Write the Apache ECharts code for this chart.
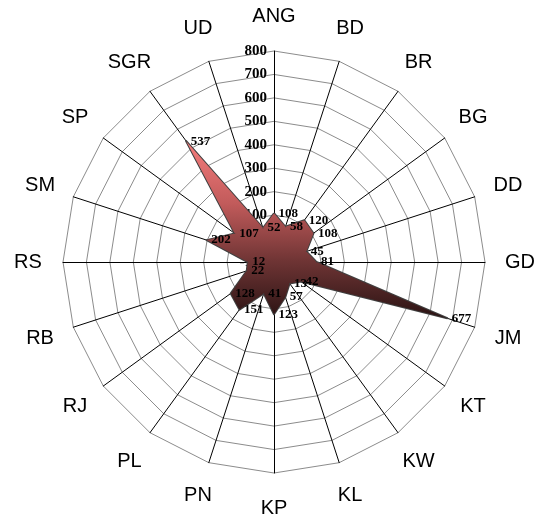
<!DOCTYPE html>
<html><head><meta charset="utf-8">
<script src="https://cdn.jsdelivr.net/npm/echarts@6/dist/echarts.min.js"></script>
<style>html,body{margin:0;padding:0;background:#fff}#c{width:541px;height:519px}</style>
</head><body><div id="c"></div>
<script>
const categories = ['ANG','BD','BR','BG','DD','GD','JM','KT','KW','KL','KP','PN','PL','RJ','RB','RS','SM','SP','SGR','UD'];
const values = [108,58,120,108,45,81,677,42,13,57,123,41,151,128,22,12,202,107,537,52];
const axisMin = -100, axisMax = 800, axisStep = 100;

const tickLabelStyle = {
  color: '#000', fontFamily: 'Liberation Serif, Times New Roman, serif',
  fontWeight: 'bold', fontSize: 15, margin: 7, hideOverlap: false
};
// ECharts radar runs counter-clockwise; reorder so the categories go clockwise from the top
const order = [0].concat(categories.map((_, i) => i).slice(1).reverse());
const indicator = order.map((i, k) => ({
  name: categories[i], min: axisMin, max: axisMax,
  axisLabel: Object.assign({ show: k === 0 }, tickLabelStyle)
}));
const seriesData = order.map(i => values[i]);

const chart = echarts.init(document.getElementById('c'), null, { renderer: 'canvas' });
chart.setOption({
  animation: false,
  backgroundColor: '#fff',
  radar: {
    center: [274, 262],
    radius: 211,
    startAngle: 90,
    shape: 'polygon',
    splitNumber: (axisMax - axisMin) / axisStep,
    indicator: indicator,
    nameGap: 35,
    axisName: {
      color: '#000', fontFamily: 'Liberation Sans, Arial, sans-serif', fontSize: 20,
      align: 'center', verticalAlign: 'middle'
    },
    axisLine: { show: true, lineStyle: { color: '#000', width: 1 } },
    splitLine: { show: true, lineStyle: { color: '#8c8c8c', width: 1 } },
    splitArea: { show: false },
    axisTick: { show: false },
    axisLabel: Object.assign({ show: false }, tickLabelStyle)
  },
  series: [{
    type: 'radar',
    symbol: 'circle',
    symbolSize: 1,
    itemStyle: { color: '#404040' },
    lineStyle: { color: '#404040', width: 2 },
    areaStyle: {
      opacity: 1,
      color: new echarts.graphic.LinearGradient(0, 0, 0, 1, [
        { offset: 0, color: '#F47C7C' },
        { offset: 0.35, color: '#C25B5B' },
        { offset: 0.68, color: '#6E3434' },
        { offset: 1, color: '#2A1313' }
      ])
    },
    label: {
      show: true, position: 'right', distance: 4, color: '#000',
      fontFamily: 'Liberation Serif, Times New Roman, serif', fontWeight: 'bold', fontSize: 13
    },
    data: [{ value: seriesData }]
  }]
});
</script></body></html>
